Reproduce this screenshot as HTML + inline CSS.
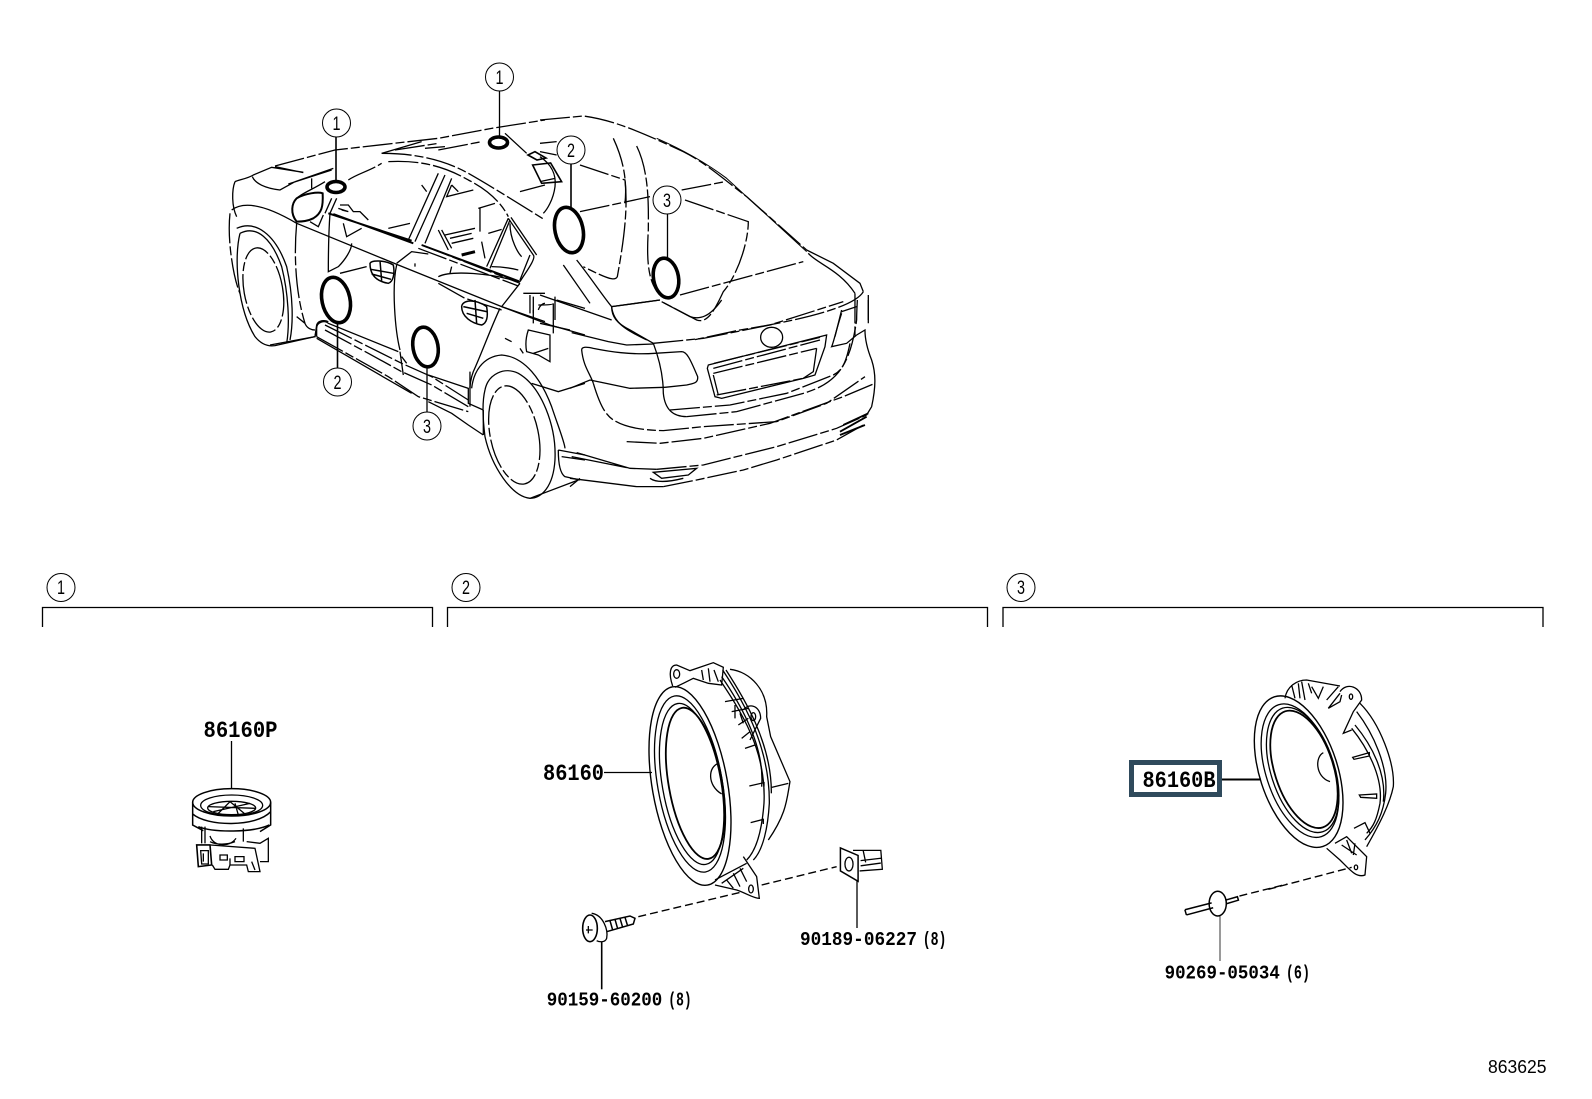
<!DOCTYPE html>
<html><head><meta charset="utf-8"><style>
html,body{margin:0;padding:0;background:#fff}
svg{display:block}
path,ellipse,line,rect,polyline{vector-effect:non-scaling-stroke;fill:none;stroke:#000;stroke-width:1.3}
.d path,.d ellipse{stroke-dasharray:30 3 9 3}
.h path{stroke-width:1.9}
.t{stroke-width:3.6}
.c{fill:#fff;stroke-width:1}
text{font-family:"Liberation Mono",monospace;font-weight:bold;fill:#000}
.n{font-family:"Liberation Sans",sans-serif;font-weight:normal;font-size:19px}
</style></head><body>
<svg width="1592" height="1099" viewBox="0 0 1592 1099" xmlns="http://www.w3.org/2000/svg">
<rect width="1592" height="1099" style="fill:#fff;stroke:none"/>

<!-- CAR: front-top -->
<g transform="translate(225,110) scale(.3333)">
<g class="d">
<path d="M150,168L330,120L640,85L800,55L960,30"/>
<path d="M470,130C560,130 650,145 730,190C800,230 880,280 960,330"/>
<path d="M490,155C590,150 660,170 730,210C790,240 830,280 850,320"/>
<path d="M215,340C205,450 215,560 240,640"/>
<path d="M15,310C5,400 30,520 45,550"/>
<ellipse cx="115" cy="540" rx="58" ry="128" transform="rotate(-10 115 540)"/>
<path d="M590,405L885,520M580,415L880,528"/>
<path d="M640,520L720,565L830,600"/>
<path d="M370,210C400,190 430,185 470,160M490,355L555,340M885,245L960,225M790,370L830,358"/>
<path d="M510,120L640,100M640,120L770,95M600,115L660,110"/>
</g>
<path d="M30,215C40,210 70,205 85,195L140,172L235,187M150,170L235,188"/>
<path d="M82,200C90,220 120,235 165,240L210,215L325,175M190,222L320,180"/>
<path d="M30,215C20,240 20,290 35,320"/>
<path d="M20,300C60,270 130,290 215,340L520,465L830,590L960,635"/>
<path d="M35,355C90,330 150,370 185,470C205,560 205,640 195,690"/>
<path d="M45,370C95,345 140,385 170,470C190,550 195,640 185,700"/>
<path d="M45,370C25,450 40,600 90,680C110,705 130,710 150,707L270,680L275,645C280,630 300,630 310,635"/>
<path d="M240,640C245,655 260,660 270,660M215,620L240,640"/>
<path d="M215,335C195,310 200,280 215,265C240,250 280,245 293,250C295,290 290,310 265,325C245,335 225,335 215,335Z" style="stroke-width:2"/>
<path d="M320,265L300,310M335,265L315,310"/>
<path d="M315,310C310,380 310,450 310,485L340,470C360,450 380,420 380,400M345,490L425,470M255,335L280,350L295,315"/>
<path d="M215,265C230,250 260,240 300,215M260,205V235"/>
<path d="M850,325L925,435C935,445 900,490 885,515M858,322L935,435"/>
<path d="M840,70L905,130M470,130L590,95"/>
<path d="M923,165L977,159L1010,215L950,220ZM909,135L930,125L963,144L936,150Z" style="stroke-width:1.6"/>
<g class="h">
<path d="M310,310L560,392M325,312L565,400"/>
<path d="M590,405L885,515"/>
</g>
<path d="M640,190L550,390M660,195L570,395M680,205L600,400"/>
<path d="M850,325L785,470M855,330L795,475M915,435L885,510"/>
<path d="M760,295L810,280M765,295V365M640,360L670,420M650,360L680,415M660,375L750,355M675,385L740,370M680,400L745,385"/>
<path d="M710,435L750,425" style="stroke-width:3"/>
<path d="M770,395L780,445M800,470C830,470 860,475 880,480M855,340C855,390 880,430 890,440"/>
<path d="M680,225L665,260L745,240M680,225L700,245"/>
<path d="M345,285L370,285L385,305L405,305L430,330M340,295L370,305L350,300M355,340L365,380L410,355"/>
<path d="M590,225L605,245"/>
<path d="M435,460C440,450 480,450 505,465C510,490 505,515 490,520C460,515 435,500 435,460ZM465,452L470,512M437,478L505,490M440,492L498,508" style="stroke-width:1.5"/>
<path d="M710,590C712,570 750,565 785,590C790,620 785,640 770,645C740,640 710,620 710,590ZM750,570L755,640M715,590L785,605M725,610L775,625" style="stroke-width:1.5"/>
<path d="M515,460L560,425L610,432M515,465C500,530 510,660 525,720"/>
<path d="M885,520L830,590"/>
<path d="M640,500C680,480 800,490 880,515M680,470L675,490M570,460V470"/>
<path d="M915,555V610M925,560V610M895,550H960M940,600C945,585 955,580 960,580"/>
</g>

<!-- CAR: front-lower -->
<g transform="translate(225,300) scale(.3333)">
<g class="d">
<path d="M300,75L430,140L530,190L620,230L730,300"/>
<path d="M300,90L430,160L530,215L620,255L730,320"/>
<path d="M275,110L490,230L580,290L730,335"/>
<ellipse cx="868" cy="405" rx="72" ry="150" transform="rotate(-12 868 405)"/>
<path d="M825,25M995,0L1080,25"/>
</g>
<path d="M275,85C275,65 300,60 310,70L520,155M610,225L730,265V310L775,330"/>
<path d="M275,115L560,280M610,305L680,340L730,375L775,405"/>
<path d="M135,135L270,110L275,85M275,110V85"/>
<path d="M740,265C745,220 770,170 830,165C900,170 950,240 980,320C1000,380 1020,430 1020,445"/>
<path d="M780,270C790,220 840,200 880,220C950,260 995,380 990,480C985,560 950,595 915,595C860,590 800,500 780,410C775,370 770,310 780,270Z"/>
<path d="M775,330V405M735,215V320"/>
<path d="M915,595L1060,540"/>
<path d="M1000,450C1000,490 1005,520 1020,530L1065,540M1000,450L1080,465M1010,470L1080,480"/>
<path d="M920,250L1000,275L1080,250"/>
<path d="M830,20L975,75L1080,105"/>
<path d="M825,25C795,90 770,160 745,215C735,240 735,265 735,265"/>
<path d="M525,155L535,225M530,170L545,190"/>
<path d="M910,90L975,105L975,185L940,165L905,155C900,130 905,105 910,90ZM925,160L970,145M840,115L860,125M885,145L895,160"/>
<path d="M925,30V70M940,15C950,15 985,15 985,10V100"/>
</g>

<!-- CAR: roof / right -->
<g transform="translate(540,110) scale(.3333)">
<g class="d">
<path d="M0,30L130,18C220,30 300,65 430,125C500,160 560,215 620,260L800,420"/>
<path d="M120,165L255,210C265,300 250,400 232,500C225,515 200,505 130,470"/>
<path d="M120,305L330,260"/>
<path d="M220,85C250,150 262,210 255,280"/>
<path d="M290,108C330,190 325,300 325,360C320,440 320,530 370,560"/>
<path d="M425,240L555,215"/>
<path d="M435,270L625,335C625,400 590,500 550,545C520,610 500,640 470,630L365,575"/>
<path d="M420,555L790,455"/>
<path d="M970,545C950,580 850,620 600,660L460,690"/>
<path d="M945,550V680M985,555V640"/>
</g>
<path d="M350,85C430,120 500,160 560,205L800,425" style="stroke-width:1"/>
<path d="M800,420L880,460L960,520L970,545M805,430C830,460 900,480 945,550"/>
<path d="M215,590L360,570M215,590C220,640 260,660 320,690"/>
<path d="M110,450C150,500 190,560 215,590M70,465L150,580"/>
<path d="M0,555L215,630M45,560V630M0,640L90,660"/>
<path d="M905,600L885,680"/>
<path d="M0,140C30,160 50,190 45,230C40,270 20,300 10,310M0,215L45,205M0,125L50,135M0,100L50,95" />
</g>

<!-- CAR: rear -->
<g transform="translate(570,300) scale(.3333)">
<g class="d">
<path d="M250,130L400,115L600,75L820,5"/>
<path d="M300,330L480,315L650,280L790,225C820,210 830,180 840,130"/>
<path d="M350,350L500,335L700,280C800,250 840,200 860,60"/>
<path d="M70,250C85,300 100,340 130,360C170,385 220,390 280,392L400,380L620,365L770,310L885,230"/>
<path d="M170,425L270,430L400,415L600,370L820,290L915,250"/>
<path d="M260,508L400,495L620,440L800,385L890,345"/>
<path d="M280,560L380,540L520,510L620,480L800,420L880,375"/>
<path d="M430,205L750,120M432,190L750,112"/>
<path d="M430,220L740,145M440,285L700,235"/>
</g>
<path d="M5,98L115,125L170,135L250,132"/>
<path d="M125,20L270,0M275,5L360,50C390,60 420,50 455,0"/>
<path d="M125,20C125,50 140,70 180,90L250,130C265,170 280,220 280,280C285,330 310,350 350,350"/>
<path d="M860,60C860,30 862,10 862,0"/>
<path d="M35,150C35,140 50,140 70,145C120,155 180,165 255,160L335,155C350,155 360,175 383,230C385,250 370,250 350,255L285,262"/>
<path d="M35,150C40,200 60,220 70,250M0,265L60,240L180,265L285,262"/>
<path d="M20,458L180,505L260,508M5,470L170,503M0,535L200,560L280,560M0,560L30,535"/>
<path d="M890,345L905,320C918,260 918,220 905,180C885,130 885,100 885,90L860,105"/>
<path d="M250,517L380,505L355,525L275,535ZM240,535C260,550 300,545 340,535"/>
<path d="M820,375L895,340M810,395L890,350M810,405L885,375" style="stroke-width:1.8"/>
<path d="M415,195L770,105L765,140L735,225L700,235L455,295L435,290L412,205Z"/>
<path d="M430,225L445,285M740,145L730,215L700,235"/>
<ellipse cx="605" cy="112" rx="33" ry="30"/>
<path d="M815,40C800,85 790,130 785,140L830,130L860,105M815,35L860,20M895,0V60"/>
</g>

<!-- callouts -->
<line x1="336" y1="137" x2="336" y2="182" style="stroke-width:1.6"/>
<line x1="499.500" y1="91" x2="499.500" y2="137"/>
<line x1="571" y1="164" x2="571" y2="207" style="stroke-width:1.6"/>
<line x1="667.500" y1="214" x2="667.500" y2="258"/>
<line x1="337.500" y1="323" x2="337.500" y2="369" style="stroke-width:1.6"/>
<line x1="427" y1="368" x2="427" y2="412"/>
<ellipse class="c" cx="336.500" cy="123" rx="14" ry="14"/>
<ellipse class="c" cx="499.500" cy="77" rx="14" ry="14"/>
<ellipse class="c" cx="571" cy="150" rx="14" ry="14"/>
<ellipse class="c" cx="667" cy="200" rx="14" ry="14"/>
<ellipse class="c" cx="337.500" cy="382" rx="14" ry="14"/>
<ellipse class="c" cx="427" cy="426" rx="14" ry="14"/>
<ellipse class="t" cx="336" cy="187" rx="9" ry="5.500"/>
<ellipse class="t" cx="498.500" cy="142.500" rx="9" ry="5.500"/>
<ellipse class="t" cx="569" cy="230" rx="14" ry="23" transform="rotate(-12 569 230)"/>
<ellipse class="t" cx="666" cy="278" rx="12.500" ry="20" transform="rotate(-10 666 278)"/>
<ellipse class="t" cx="336" cy="300" rx="14" ry="23" transform="rotate(-12 336 300)"/>
<ellipse class="t" cx="425.500" cy="347" rx="12.500" ry="20" transform="rotate(-10 425.500 347)"/>
<text class="n" x="336.500" y="130" text-anchor="middle" textLength="8" lengthAdjust="spacingAndGlyphs">1</text>
<text class="n" x="499.500" y="84" text-anchor="middle" textLength="8" lengthAdjust="spacingAndGlyphs">1</text>
<text class="n" x="571" y="157" text-anchor="middle" textLength="8" lengthAdjust="spacingAndGlyphs">2</text>
<text class="n" x="667" y="207" text-anchor="middle" textLength="8" lengthAdjust="spacingAndGlyphs">3</text>
<text class="n" x="337.500" y="389" text-anchor="middle" textLength="8" lengthAdjust="spacingAndGlyphs">2</text>
<text class="n" x="427" y="433" text-anchor="middle" textLength="8" lengthAdjust="spacingAndGlyphs">3</text>

<!-- brackets -->
<path d="M42.500,627V607.500H432.500V627"/>
<path d="M447.500,627V607.500H987.500V627"/>
<path d="M1003,627V607.500H1543V627"/>
<ellipse class="c" cx="61" cy="587.500" rx="14" ry="14"/>
<ellipse class="c" cx="466" cy="587.500" rx="14" ry="14"/>
<ellipse class="c" cx="1021" cy="587.500" rx="14" ry="14"/>
<text class="n" x="61" y="594" text-anchor="middle" textLength="8" lengthAdjust="spacingAndGlyphs">1</text>
<text class="n" x="466" y="594" text-anchor="middle" textLength="8" lengthAdjust="spacingAndGlyphs">2</text>
<text class="n" x="1021" y="594" text-anchor="middle" textLength="8" lengthAdjust="spacingAndGlyphs">3</text>

<!-- tweeter -->
<g transform="translate(180,710) scale(.3333)">
<ellipse cx="155" cy="277" rx="117" ry="41" style="stroke-width:1.5"/>
<ellipse cx="155" cy="286" rx="93" ry="31"/>
<ellipse cx="155" cy="294" rx="72" ry="20"/>
<path d="M85,290L225,295M150,275L110,315M150,275L195,312M165,280L175,315M100,305L210,280"/>
<path d="M38,277V345L70,362M272,277V345L240,365M38,312C80,350 230,352 272,305M55,350C100,368 220,368 268,345" style="stroke-width:1.5"/>
<path d="M65,350V400M75,350V400M190,355V395M90,378C100,412 150,412 168,385M90,395C110,405 140,405 165,395"/>
<path d="M50,405H90L95,465L55,470Z" style="stroke-width:1.6"/>
<path d="M62,422H85V462H65ZM70,430V455"/>
<path d="M92,405L225,415L240,485H205L200,465H150L145,478H105L97,465"/>
<path d="M120,435H142V450H120ZM165,440H192V455H165ZM150,445V465"/>
<path d="M200,395L240,400L265,385V455H240M215,455L225,480"/>
</g>

<!-- speaker 86160 -->
<g transform="translate(640,660) scale(.3333)">
<ellipse cx="150" cy="378" rx="113" ry="302" transform="rotate(-10 150 378)" style="stroke-width:1.4"/>
<ellipse cx="150" cy="372" rx="97" ry="268" transform="rotate(-10 150 372)"/>
<ellipse cx="155" cy="372" rx="88" ry="245" transform="rotate(-10 155 372)"/>
<ellipse cx="166" cy="370" rx="80" ry="230" transform="rotate(-10 166 370)" style="stroke-width:1.8"/>
<path d="M235,310C205,320 200,375 245,402"/>
<path d="M98,78C85,40 90,15 110,15L150,32L220,8L250,22L245,75L205,70L160,55L130,70L105,82"/>
<ellipse cx="110" cy="42" rx="9" ry="13"/>
<path d="M185,30L190,60M205,25L210,65M222,30L235,65M245,50C300,130 375,260 365,380"/>
<path d="M248,30C300,110 390,250 388,430C384,500 370,570 340,600M258,30C310,110 396,250 394,400"/>
<path d="M270,28C330,35 385,90 380,170L392,230L450,365C440,420 440,460 385,540"/>
<path d="M240,60C300,150 380,270 372,430C366,510 350,570 320,600"/>
<path d="M255,125L310,115M275,155L325,145M295,195L325,175M305,235L330,215M315,265L345,255M285,135V175M300,160L310,190"/>
<path d="M310,150C330,125 362,140 362,175L330,240"/>
<ellipse cx="340" cy="170" rx="7" ry="12"/>
<path d="M328,378L372,368V380M395,382L445,370"/>
<path d="M332,488L370,478V492"/>
<path d="M310,590L350,650L358,715C340,715 320,700 290,690L225,675"/>
<ellipse cx="333" cy="687" rx="7" ry="12"/>
<path d="M225,660L320,610M245,670L310,625M280,640L300,680M260,660L280,685M300,625L320,665"/>
</g>

<!-- screw + dashes -->
<g transform="translate(540,850) scale(.3333)">
<ellipse cx="150" cy="235" rx="22" ry="40" style="stroke-width:1.6"/>
<path d="M155,190C190,195 205,240 200,265C195,280 175,275 170,272"/>
<path d="M138,240H158M145,228V250"/>
<path d="M195,215L270,198L285,205L280,222L200,245M210,212L218,240M225,208L233,236M240,205L248,232M255,202L263,228" style="stroke-width:1.5"/>
<line x1="295" y1="200" x2="610" y2="125" style="stroke-dasharray:8 4;stroke-width:1.4"/>
<line x1="665" y1="105" x2="890" y2="50" style="stroke-dasharray:8 4;stroke-width:1.4"/>
</g>

<!-- clip -->
<g transform="translate(800,560) scale(.5051,.3436)">
<path d="M80,838L115,860V935L80,905Z" style="stroke-width:1.5"/>
<ellipse cx="97" cy="885" rx="8" ry="20"/>
<path d="M105,845L160,845L163,900L118,905M125,845L130,880M120,875L160,868M120,890L160,882"/>
</g>

<!-- speaker 86160B -->
<g transform="translate(1240,670) scale(.3333)">
<ellipse cx="176" cy="305" rx="117" ry="236" transform="rotate(-18 176 305)" style="stroke-width:1.4"/>
<ellipse cx="180" cy="302" rx="102" ry="208" transform="rotate(-18 180 302)"/>
<ellipse cx="188" cy="300" rx="95" ry="195" transform="rotate(-18 188 300)"/>
<ellipse cx="192" cy="298" rx="88" ry="183" transform="rotate(-18 192 298)" style="stroke-width:1.8"/>
<path d="M250,248C225,260 225,320 270,335"/>
<path d="M135,85C140,50 170,30 200,30L300,48"/>
<path d="M155,45L165,85M175,40L180,85M185,35L195,90M205,40L215,70M215,50L235,85L250,50M260,90L295,50"/>
<path d="M300,65C320,35 365,50 365,90L340,125L310,190L335,180"/>
<path d="M300,70L265,115L300,95L305,75"/>
<ellipse cx="333" cy="80" rx="5" ry="8"/>
<path d="M360,100C420,160 465,280 460,350C450,400 420,460 380,530"/>
<path d="M350,125C400,190 445,290 437,370C430,430 410,470 375,510"/>
<path d="M335,175C380,230 430,320 420,400C410,450 400,470 380,490M345,165C395,225 440,310 430,395"/>
<path d="M338,262L388,248V258L342,268Z"/>
<path d="M358,375L410,372V385L362,382Z"/>
<path d="M342,475L375,458L390,490"/>
<path d="M285,520L320,500L380,560L375,615C350,625 330,600 300,570L260,535"/>
<path d="M320,510L335,550M345,520L340,555M305,525L350,555"/>
<ellipse cx="348" cy="592" rx="5" ry="7"/>
<line x1="85" y1="658" x2="335" y2="592" style="stroke-dasharray:8 4;stroke-width:1.4"/>
</g>

<!-- pin -->
<g transform="translate(800,560) scale(.5051,.3436)">
<path d="M762,1018L815,998M765,1033L818,1012M762,1018L765,1033M842,990L866,980L868,990L845,1000" style="stroke-width:1.5"/>
<ellipse cx="827" cy="1000" rx="17" ry="36" style="stroke-width:1.5"/>
<line x1="870" y1="978" x2="965" y2="943" style="stroke-dasharray:8 4;stroke-width:1.4"/>
</g>

<!-- leaders -->
<line x1="231.500" y1="741" x2="231.500" y2="788"/>
<line x1="604" y1="772.500" x2="652" y2="772.500"/>
<line x1="601.700" y1="941.700" x2="601.700" y2="989.300" style="stroke-width:1.6"/>
<line x1="857" y1="881" x2="857" y2="928"/>
<line x1="1220" y1="916" x2="1220" y2="961" style="stroke-width:.8"/>
<line x1="1222" y1="779.500" x2="1261" y2="779.500" style="stroke-width:2"/>
<rect x="1131.500" y="762.500" width="88" height="32" style="stroke:#2f4a5c;stroke-width:5"/>

<text x="203.500" y="737" font-size="23" textLength="74" lengthAdjust="spacingAndGlyphs">86160P</text>
<text x="543" y="780" font-size="23" textLength="61" lengthAdjust="spacingAndGlyphs">86160</text>
<text x="1142.500" y="787" font-size="23" textLength="73" lengthAdjust="spacingAndGlyphs">86160B</text>
<text x="546.700" y="1005.500" font-size="19" textLength="115.600" lengthAdjust="spacingAndGlyphs">90159-60200</text>
<text x="668.300" y="1005.500" font-size="19" textLength="23.400" lengthAdjust="spacingAndGlyphs">(8)</text>
<text x="800" y="945" font-size="19" textLength="117" lengthAdjust="spacingAndGlyphs">90189-06227</text>
<text x="922.700" y="945" font-size="19" textLength="23.800" lengthAdjust="spacingAndGlyphs">(8)</text>
<text x="1164.600" y="978.500" font-size="19" textLength="115.200" lengthAdjust="spacingAndGlyphs">90269-05034</text>
<text x="1285.900" y="978.500" font-size="19" textLength="24.100" lengthAdjust="spacingAndGlyphs">(6)</text>
<text class="n" x="1488" y="1073" textLength="58.500" lengthAdjust="spacingAndGlyphs" style="font-size:18px">863625</text>
</svg>
</body></html>
